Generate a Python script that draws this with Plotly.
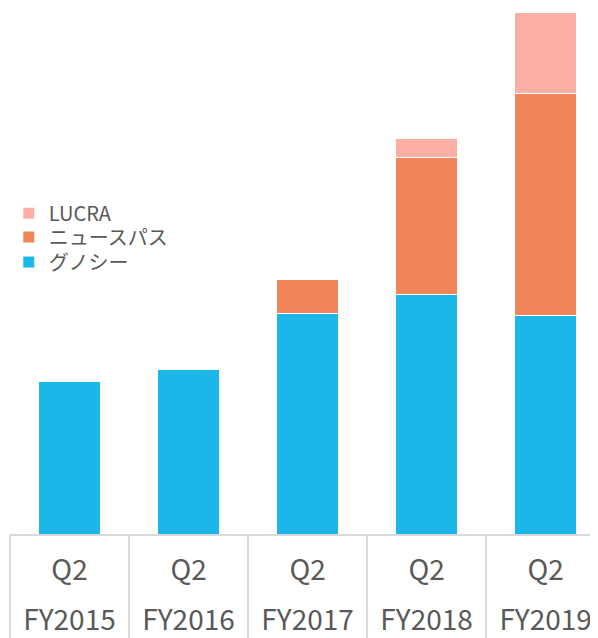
import plotly.graph_objects as go

fiscal_years = ["FY2015", "FY2016", "FY2017", "FY2018", "FY2019"]
quarters = ["Q2", "Q2", "Q2", "Q2", "Q2"]
gunosy = [153, 165, 221, 240, 219]
newspass = [0, 0, 34, 137, 222]
lucra = [0, 0, 0, 19, 81]

C_GUNOSY = "#1DB6E9"
C_NEWS = "#F0855A"
C_LUCRA = "#FBAFA5"
TXT = "#595959"
GRID = "#D9D9D9"
FONT = "Noto Sans CJK JP"

fig = go.Figure()
series = [("グノシー", gunosy, C_GUNOSY, "legend3"),
          ("ニュースパス", newspass, C_NEWS, "legend2"),
          ("LUCRA", lucra, C_LUCRA, "legend")]
for name, vals, col, lg in series:
    fig.add_trace(go.Bar(x=fiscal_years, y=vals, name=name, legend=lg,
                         marker=dict(color=col, line=dict(color="white", width=1)),
                         width=0.52))

# helper empty traces so the overlay label/divider axes are drawn
fig.add_trace(go.Scatter(x=[], y=[], xaxis="x2", yaxis="y", showlegend=False, hoverinfo="skip"))
fig.add_trace(go.Scatter(x=[], y=[], xaxis="x3", yaxis="y", showlegend=False, hoverinfo="skip"))

xr = [-0.5, 4.44]
leg_x = -0.002


def leg(ypos):
    return dict(x=leg_x, y=ypos, xanchor="left", yanchor="middle",
                font=dict(size=20, color=TXT, family=FONT),
                itemwidth=30, bgcolor="rgba(0,0,0,0)")


fig.update_layout(
    width=590, height=630,
    margin=dict(l=2, r=0, t=0, b=104, autoexpand=False),
    barmode="stack",
    plot_bgcolor="white", paper_bgcolor="white",
    font=dict(family=FONT, color=TXT),
    showlegend=True,
    legend=leg(0.610),
    legend2=leg(0.5646),
    legend3=leg(0.517),
    yaxis=dict(range=[0, 526], visible=False, fixedrange=True),
    xaxis=dict(type="category", range=xr, showline=True, linecolor=GRID, linewidth=2,
               tickvals=fiscal_years, ticktext=quarters, ticks="",
               ticklabelstandoff=10, tickfont=dict(size=28, color=TXT, family=FONT),
               showgrid=False, zeroline=False),
    xaxis2=dict(type="linear", overlaying="x", anchor="y", side="bottom", range=xr,
                tickvals=list(range(len(fiscal_years))), ticktext=fiscal_years, ticks="",
                ticklabelstandoff=67, tickfont=dict(size=28, color=TXT, family=FONT),
                showgrid=False, zeroline=False, showline=False),
    xaxis3=dict(type="linear", overlaying="x", anchor="y", side="bottom", range=xr,
                tickvals=[i - 0.5 for i in range(len(fiscal_years) + 1)],
                ticks="outside", ticklen=104, tickwidth=2, tickcolor=GRID,
                showticklabels=False, showgrid=False, zeroline=False, showline=False),
)
fig.write_html("out.html")
